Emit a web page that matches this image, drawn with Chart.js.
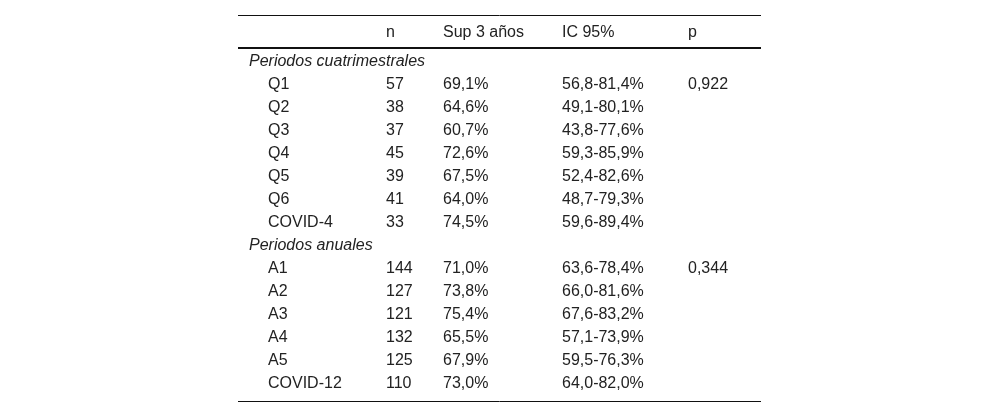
<!DOCTYPE html>
<html>
<head>
<meta charset="utf-8">
<script src="https://cdn.jsdelivr.net/npm/chart.js@4.4.1/dist/chart.umd.min.js"></script>
<style>
  body { margin: 0; background: #fff; }
</style>
</head>
<body>
<canvas id="tableChart" width="1000" height="417"></canvas>
<script>
var headers = ["", "n", "Sup 3 años", "IC 95%", "p"];

var cuatrTitle = "Periodos cuatrimestrales";
var cuatrLabels = ["Q1", "Q2", "Q3", "Q4", "Q5", "Q6", "COVID-4"];
var cuatrN = [57, 38, 37, 45, 39, 41, 33];
var cuatrSup = [69.1, 64.6, 60.7, 72.6, 67.5, 64.0, 74.5];
var cuatrLow = [56.8, 49.1, 43.8, 59.3, 52.4, 48.7, 59.6];
var cuatrHigh = [81.4, 80.1, 77.6, 85.9, 82.6, 79.3, 89.4];
var cuatrP = 0.922;

var anualTitle = "Periodos anuales";
var anualLabels = ["A1", "A2", "A3", "A4", "A5", "COVID-12"];
var anualN = [144, 127, 121, 132, 125, 110];
var anualSup = [71.0, 73.8, 75.4, 65.5, 67.9, 73.0];
var anualLow = [63.6, 66.0, 67.6, 57.1, 59.5, 64.0];
var anualHigh = [78.4, 81.6, 83.2, 73.9, 76.3, 82.0];
var anualP = 0.344;

// column x positions (px) and row layout
var colX = [268, 386, 443, 562, 688];
var sectionX = 249;
var headerRow = -1.26;
var ruleRows = [{ y: -1.957, w: 1 }, { y: -0.54, w: 2 }, { y: 14.83, w: 1 }];

function pct(v) { return v.toFixed(1).replace(".", ",") + "%"; }
function dec(v) { return v.toFixed(3).replace(".", ","); }

var cells = [];
headers.forEach(function (h, i) {
    if (h) cells.push({ x: colX[i], y: headerRow, text: h });
});
var row = 0;
function addSection(title, labels, ns, sup, lo, hi, p) {
    cells.push({ x: sectionX, y: row, text: title, italic: true });
    row++;
    labels.forEach(function (lab, i) {
        cells.push({ x: colX[0], y: row, text: lab });
        cells.push({ x: colX[1], y: row, text: String(ns[i]) });
        cells.push({ x: colX[2], y: row, text: pct(sup[i]) });
        cells.push({ x: colX[3], y: row, text: lo[i].toFixed(1).replace(".", ",") + "-" + pct(hi[i]) });
        if (i === 0) cells.push({ x: colX[4], y: row, text: dec(p) });
        row++;
    });
}
addSection(cuatrTitle, cuatrLabels, cuatrN, cuatrSup, cuatrLow, cuatrHigh, cuatrP);
addSection(anualTitle, anualLabels, anualN, anualSup, anualLow, anualHigh, anualP);

var tablePlugin = {
    id: "tablePlugin",
    afterDatasetsDraw: function (chart) {
        var ctx = chart.ctx;
        var xs = chart.scales.x, ys = chart.scales.y;
        ctx.save();
        ctx.strokeStyle = "#111";
        ruleRows.forEach(function (r) {
            var py = Math.round(ys.getPixelForValue(r.y)) + (r.w % 2 ? 0.5 : 0);
            ctx.lineWidth = r.w;
            ctx.beginPath();
            ctx.moveTo(xs.getPixelForValue(238), py);
            ctx.lineTo(xs.getPixelForValue(761), py);
            ctx.stroke();
        });
        ctx.fillStyle = "#222";
        ctx.textBaseline = "alphabetic";
        ctx.textAlign = "left";
        var meta = chart.getDatasetMeta(0);
        meta.data.forEach(function (pt, i) {
            var c = cells[i];
            ctx.font = (c.italic ? "italic " : "") + "16px 'Liberation Sans', Arial, sans-serif";
            // baseline sits about 6px under the row centre
            ctx.fillText(c.text, pt.x, pt.y + 6);
        });
        ctx.restore();
    }
};

new Chart("tableChart", {
    type: "scatter",
    data: {
        datasets: [{
            data: cells.map(function (c) { return { x: c.x, y: c.y }; }),
            pointRadius: 0,
            pointHoverRadius: 0
        }]
    },
    options: {
        responsive: false,
        animation: false,
        events: [],
        layout: { padding: { top: 14, bottom: 12, left: 0, right: 0 } },
        plugins: { legend: { display: false }, tooltip: { enabled: false } },
        scales: {
            x: { type: "linear", min: 0, max: 1000, display: false },
            y: { type: "linear", min: -2, max: 15, reverse: true, display: false }
        }
    },
    plugins: [tablePlugin]
});
</script>
</body>
</html>
